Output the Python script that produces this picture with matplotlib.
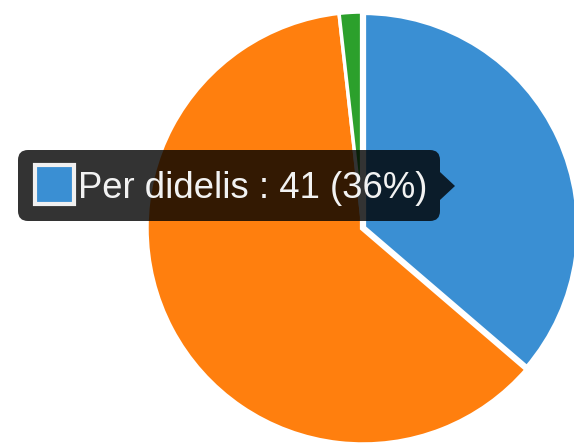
import matplotlib
matplotlib.use('Agg')
import matplotlib.pyplot as plt
from matplotlib.patches import FancyBboxPatch, Polygon, Rectangle

# duomenys
labels = ['Per didelis', 'Kita', 'Maža']
values = [41, 70, 2]
colors = ['#3a8fd3', '#ff7f0e', '#2ca02c']

W, H = 574, 446
fig = plt.figure(figsize=(W / 100, H / 100), dpi=100)
ax = fig.add_axes([0, 0, 1, 1])
ax.set_xlim(0, W)
ax.set_ylim(0, H)
ax.set_aspect('equal')
ax.axis('off')

# pie, centras pikseliais (y nuo apačios)
wedges, _ = ax.pie(values, colors=colors, startangle=90, counterclock=False,
                   center=(363, H - 228), radius=216,
                   wedgeprops=dict(edgecolor='white', linewidth=2.5))
# užvesta (hover) dalis - storesnis kraštas
wedges[0].set_linewidth(4.5)
wedges[0].set_zorder(3)
ax.set_xlim(0, W)
ax.set_ylim(0, H)

# tooltip
total = sum(values)
pct = round(values[0] / total * 100)
txt = '{} : {} ({}%)'.format(labels[0], values[0], pct)

box = FancyBboxPatch((18, H - 221), 422, 71,
                     boxstyle='round,pad=0,rounding_size=10',
                     facecolor=(0, 0, 0, 0.8), edgecolor='none', zorder=5)
ax.add_patch(box)
arrow = Polygon([(440, H - 172), (455, H - 186), (440, H - 200)],
                closed=True, facecolor=(0, 0, 0, 0.8), edgecolor='none', zorder=5)
ax.add_patch(arrow)

sq = Rectangle((35, H - 204), 39, 39, facecolor=colors[0],
               edgecolor='#f0f0f0', linewidth=3, zorder=6)
ax.add_patch(sq)

ax.text(78, H - 198, txt, color='#f2f2f2', fontsize=26.3,
        family=['Liberation Sans', 'DejaVu Sans'], va='baseline', ha='left', zorder=7)

fig.savefig('out.png', dpi=100)
